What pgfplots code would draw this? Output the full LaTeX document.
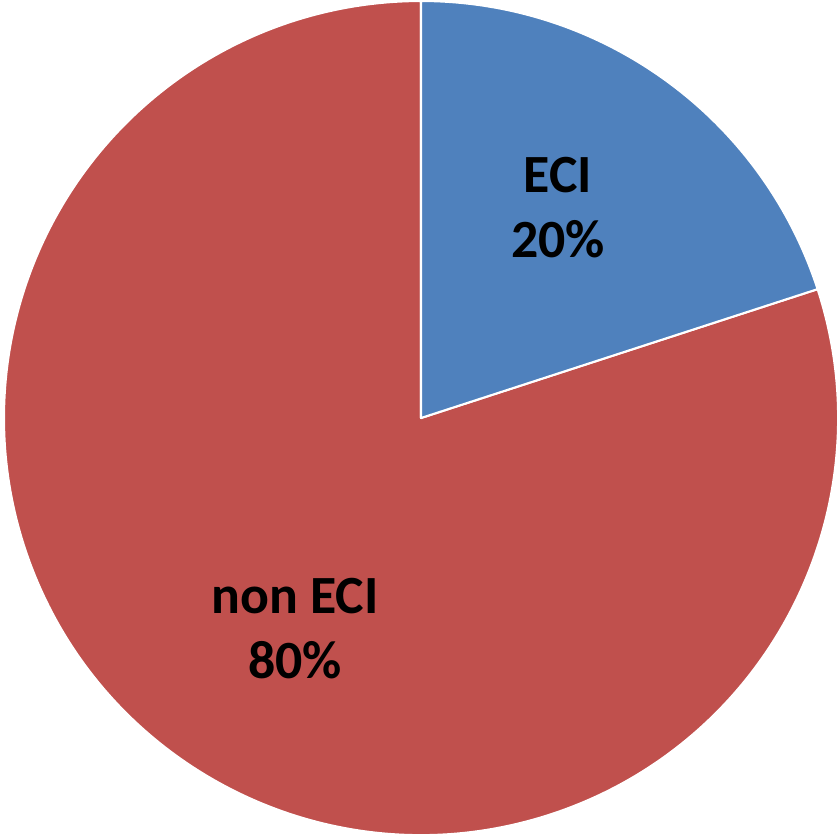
\documentclass[border=0pt]{standalone}
\usepackage{pgfplots}
\pgfplotsset{compat=1.18}
\usepackage{fontspec}
\setmainfont{Carlito}
\definecolor{eciblue}{RGB}{79,129,189}
\definecolor{nonred}{RGB}{192,80,77}
\begin{document}
\begin{tikzpicture}
% values
\def\valECI{20}
\def\valNon{80}
\pgfmathsetmacro{\angECI}{90-3.6*\valECI}
\pgfmathsetmacro{\angNon}{\angECI-3.6*\valNon}
\begin{axis}[
  width=8.40cm, height=8.39cm, scale only axis,
  xmin=0, xmax=840, ymin=0, ymax=839,
  hide axis, clip=false]
  \path (axis cs:0,0) rectangle (axis cs:840,839);
  \fill[nonred, draw=white, line width=0.6pt, line join=round, overlay]
    (axis cs:421,421) -- ([shift={(\angECI:4.17cm)}]axis cs:421,421) arc[start angle=\angECI, end angle=\angNon, radius=4.17cm] -- cycle;
  \fill[eciblue, draw=white, line width=0.6pt, line join=round, overlay]
    (axis cs:421,421) -- (axis cs:421,838) arc[start angle=90, end angle=\angECI, radius=4.17cm] -- cycle;
  \node[font=\fontsize{15.3}{18.5}\selectfont\bfseries, align=center] at (axis cs:558,631) {ECI\\\valECI\%};
  \node[font=\fontsize{15.3}{18.5}\selectfont\bfseries, align=center] at (axis cs:295,210) {non ECI\\\valNon\%};
\end{axis}
\end{tikzpicture}
\end{document}
